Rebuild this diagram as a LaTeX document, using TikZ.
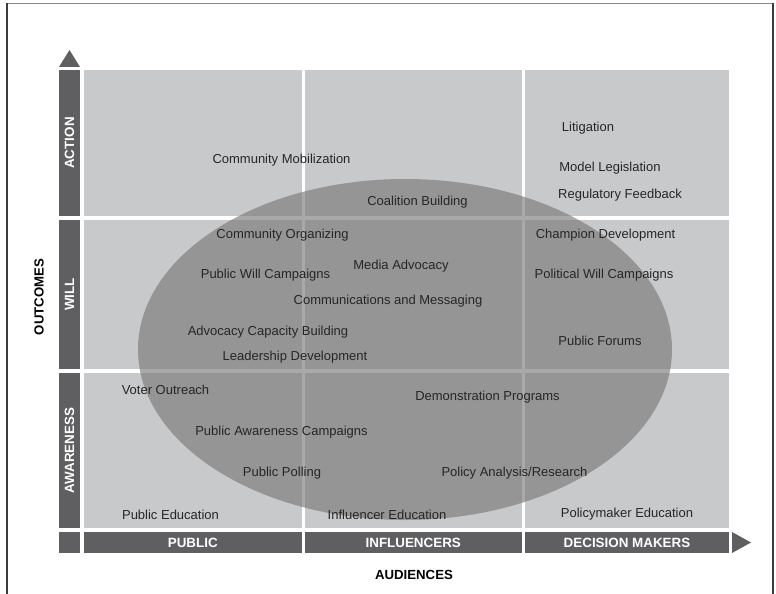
\documentclass[tikz,border=0pt]{standalone}
\usepackage{fontspec}
\setmainfont{Liberation Sans}
\definecolor{barc}{RGB}{95,95,97}
\definecolor{cellc}{RGB}{200,201,203}
\definecolor{ellc}{RGB}{121,121,121}
\definecolor{txtc}{RGB}{38,38,38}
\definecolor{framec}{RGB}{60,60,60}
\tikzset{
  cellbox/.style={fill=cellc, draw=none, inner sep=0pt, anchor=north west},
  barbox/.style={fill=barc, draw=none, inner sep=0pt, text=white, font=\fontsize{13.4}{15}\selectfont\bfseries},
  item/.style={text=txtc, inner sep=0pt, yshift=-1.5pt, font=\fontsize{13}{15}\selectfont},
  axislabel/.style={text=black, inner sep=0pt, font=\fontsize{13.2}{15}\selectfont\bfseries},
}
\begin{document}
\begin{tikzpicture}[x=1pt,y=-1pt]
\useasboundingbox (0,0) rectangle (776,594);
% frame
\draw[framec!60, line width=1.5pt] (7,3.5) -- (773,3.5);
\draw[framec, line width=1.5pt] (7,3) -- (7,594);
\draw[framec, line width=1.5pt] (773,3) -- (773,594);
% cells
\node[cellbox, minimum width=217.5, minimum height=146] (c11) at (84,70) {};
\node[cellbox, minimum width=216.5, minimum height=146] (c12) at (305,70) {};
\node[cellbox, minimum width=204, minimum height=146] (c13) at (525,70) {};
\node[cellbox, minimum width=217.5, minimum height=149] (c21) at (84,220) {};
\node[cellbox, minimum width=216.5, minimum height=149] (c22) at (305,220) {};
\node[cellbox, minimum width=204, minimum height=149] (c23) at (525,220) {};
\node[cellbox, minimum width=217.5, minimum height=155] (c31) at (84,373) {};
\node[cellbox, minimum width=216.5, minimum height=155] (c32) at (305,373) {};
\node[cellbox, minimum width=204, minimum height=155] (c33) at (525,373) {};
% vertical bars
\node[barbox, rotate=90, minimum width=146, minimum height=21] (action) at (69.5,143) {ACTION};
\node[barbox, rotate=90, minimum width=149, minimum height=21] (will) at (69.5,294.5) {WILL};
\node[barbox, rotate=90, minimum width=155, minimum height=21] (aware) at (69.5,450.5) {AWARENESS};
% horizontal bars
\node[barbox, minimum width=21, minimum height=21] (corner) at (69.5,542.5) {};
\node[barbox, minimum width=217.5, minimum height=21] (public) at (192.75,542.5) {PUBLIC};
\node[barbox, minimum width=216.5, minimum height=21] (infl) at (413.25,542.5) {INFLUENCERS};
\node[barbox, minimum width=204, minimum height=21] (dm) at (627,542.5) {DECISION MAKERS};
% arrows
\fill[barc] (59,67) -- (80,67) -- (69.5,50) -- cycle;
\fill[barc] (732,532) -- (732,553) -- (751,542.5) -- cycle;
% ellipse
\fill[ellc, fill opacity=0.64] (405,349.5) ellipse [x radius=267, y radius=170.5];
% axis labels
\node[axislabel, rotate=90] (outcomes) at (39,297) {OUTCOMES};
\node[axislabel] (audiences) at (414,575) {AUDIENCES};
% items
\node[item] (i1) at (281.5,159) {Community Mobilization};
\node[item] (i2) at (417.5,201) {Coalition Building};
\node[item] (i3) at (588,127) {Litigation};
\node[item] (i4) at (610,167) {Model Legislation};
\node[item] (i5) at (620,194) {Regulatory Feedback};
\node[item] (i6) at (282.5,234) {Community Organizing};
\node[item] (i7) at (605.5,234) {Champion Development};
\node[item] (i8) at (401,265) {Media Advocacy};
\node[item] (i9) at (265.5,274) {Public Will Campaigns};
\node[item] (i10) at (604,274) {Political Will Campaigns};
\node[item] (i11) at (388,300) {Communications and Messaging};
\node[item] (i12) at (268,331) {Advocacy Capacity Building};
\node[item] (i13) at (600,339) {Public Forums};
\node[item] (i14) at (295,356) {Leadership Development};
\node[item] (i15) at (165.5,388) {Voter Outreach};
\node[item] (i16) at (487.5,396) {Demonstration Programs};
\node[item] (i17) at (281.5,431) {Public Awareness Campaigns};
\node[item] (i18) at (282,472) {Public Polling};
\node[item] (i19) at (514.5,472) {Policy Analysis/Research};
\node[item] (i20) at (170.5,513) {Public Education};
\node[item] (i21) at (387,513) {Influencer Education};
\node[item] (i22) at (627,513) {Policymaker Education};
\end{tikzpicture}
\end{document}
